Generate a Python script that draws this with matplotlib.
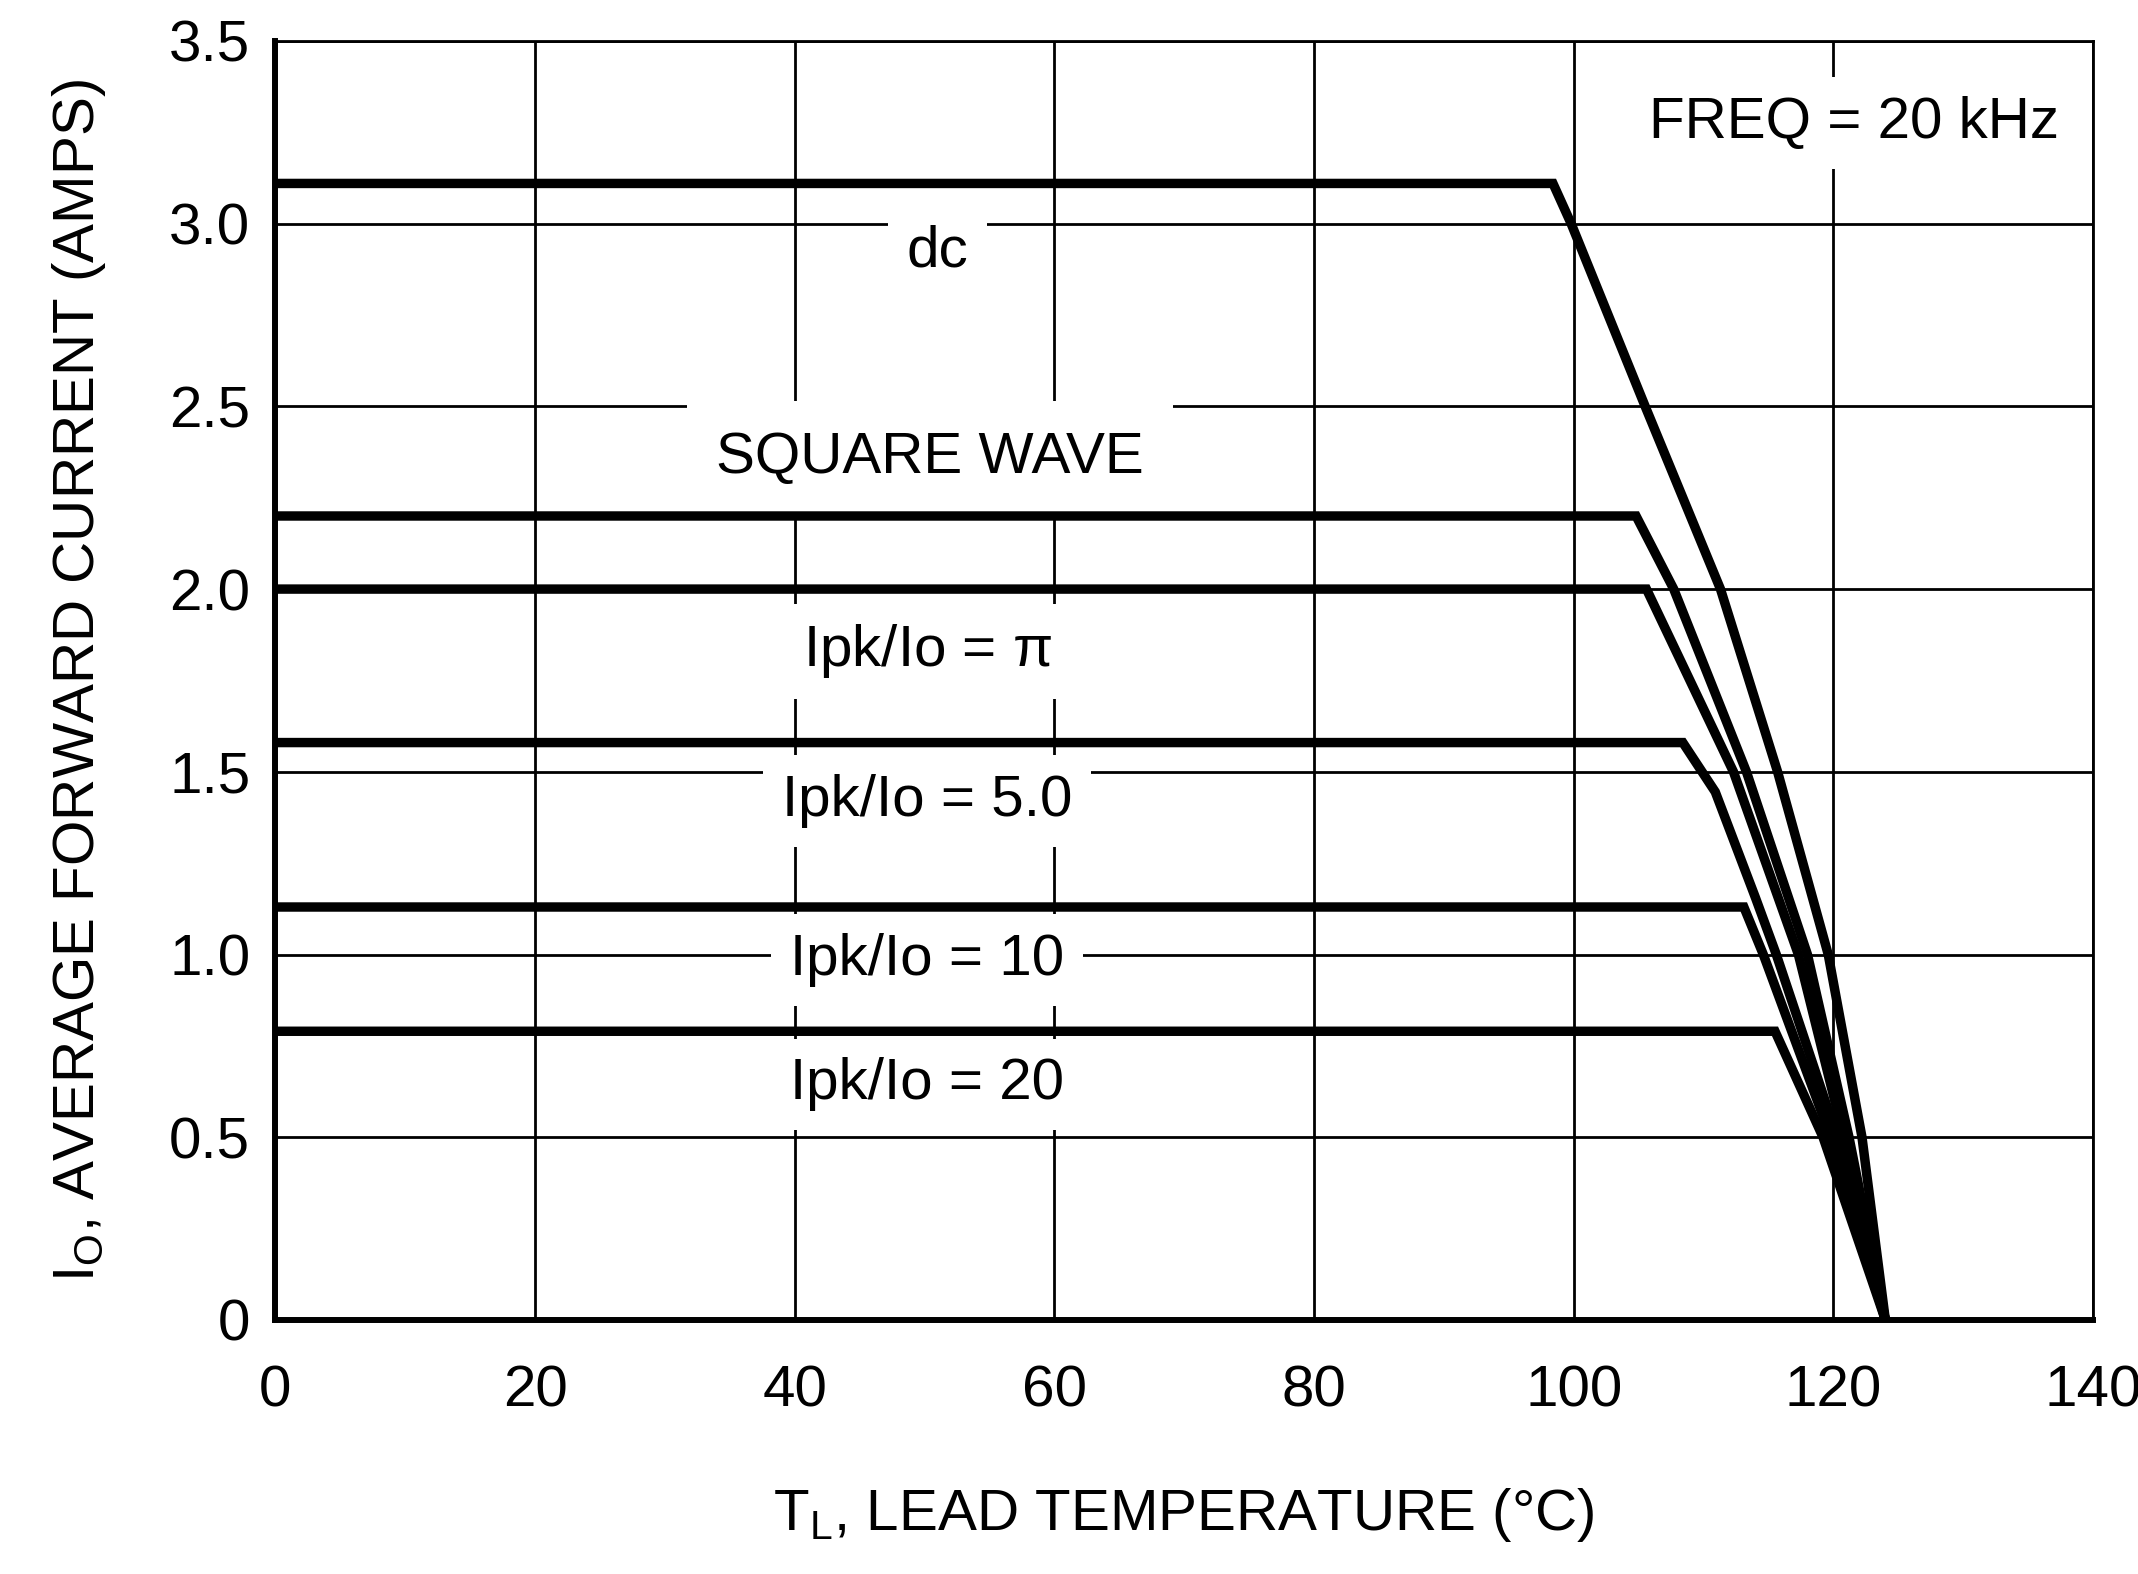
import matplotlib
matplotlib.use("Agg")
import matplotlib.pyplot as plt

plt.rcParams['font.family'] = ['Liberation Sans', 'DejaVu Sans']
plt.rcParams['mathtext.default'] = 'regular'

# curves: lead temperature (C) vs average forward current (A)
t_dc = [0, 98.4, 99.8, 105.5, 111.3, 115.7, 119.6, 122.2, 124.0]
i_dc = [3.11, 3.11, 3.0, 2.5, 2.0, 1.5, 1.0, 0.5, 0.0]

t_sq = [0, 104.8, 107.7, 113.3, 118.0, 121.2, 124.0]
i_sq = [2.2, 2.2, 2.0, 1.5, 1.0, 0.5, 0.0]

t_pi = [0, 105.6, 112.3, 117.3, 120.8, 124.0]
i_pi = [2.0, 2.0, 1.5, 1.0, 0.5, 0.0]

t_5 = [0, 108.4, 110.9, 114.0, 115.6, 120.3, 124.0]
i_5 = [1.58, 1.58, 1.445, 1.155, 1.0, 0.5, 0.0]

t_10 = [0, 113.1, 114.6, 119.8, 124.0]
i_10 = [1.13, 1.13, 1.0, 0.5, 0.0]

t_20 = [0, 115.5, 119.2, 124.0]
i_20 = [0.79, 0.79, 0.5, 0.0]

x_ticks = [0, 20, 40, 60, 80, 100, 120, 140]
y_ticks = [0, 0.5, 1.0, 1.5, 2.0, 2.5, 3.0, 3.5]
y_ticklabels = ['0', '0.5', '1.0', '1.5', '2.0', '2.5', '3.0', '3.5']

# curve labels and where they sit
labels = ['dc', 'SQUARE WAVE', r'Ipk/Io = $\pi$', 'Ipk/Io = 5.0', 'Ipk/Io = 10', 'Ipk/Io = 20']
label_x = [51.0, 50.4, 50.2, 50.2, 50.2, 50.2]
label_y = [2.925, 2.36, 1.83, 1.42, 0.985, 0.645]
label_pad = [0.32, 0.5, 0.32, 0.32, 0.32, 0.32]

fs = 42

fig = plt.figure(figsize=(21.38, 15.74), dpi=100)
ax = fig.add_axes([0.1288, 0.1614, 0.8502, 0.8126])

for t, i in [(t_dc, i_dc), (t_sq, i_sq), (t_pi, i_pi), (t_5, i_5), (t_10, i_10), (t_20, i_20)]:
    ax.plot(t, i, color='black', lw=6.8, solid_joinstyle='miter', solid_capstyle='butt', zorder=4)

ax.set_xlim(0, 140)
ax.set_ylim(0, 3.5)
ax.set_xticks(x_ticks)
ax.set_yticks(y_ticks)
ax.set_yticklabels(y_ticklabels)
ax.tick_params(length=0, labelsize=fs)
ax.tick_params(axis='x', pad=32)
ax.tick_params(axis='y', pad=18)

ax.set_axisbelow(True)
ax.grid(color='black', lw=2)
for s in ['left', 'bottom']:
    ax.spines[s].set_linewidth(4.3)
for s in ['top', 'right']:
    ax.spines[s].set_linewidth(2)

for txt, x, y, p in zip(labels, label_x, label_y, label_pad):
    ax.text(x, y, txt, ha='center', va='center', fontsize=fs, zorder=3,
            bbox=dict(boxstyle=f'square,pad={p}', fc='white', ec='none'))

ax.text(121.6, 3.275, 'FREQ = 20 kHz', ha='center', va='center', fontsize=fs, zorder=3,
        bbox=dict(boxstyle='square,pad=0.32', fc='white', ec='none'))

ax.set_xlabel(r'T$_{L}$, LEAD TEMPERATURE ($\degree$C)', fontsize=fs)
ax.set_ylabel(r'I$_{O}$, AVERAGE FORWARD CURRENT (AMPS)', fontsize=fs)
ax.xaxis.set_label_coords(0.5, -0.13)
ax.yaxis.set_label_coords(-0.092, 0.5)

fig.savefig('out.png', dpi=100, facecolor='white')
